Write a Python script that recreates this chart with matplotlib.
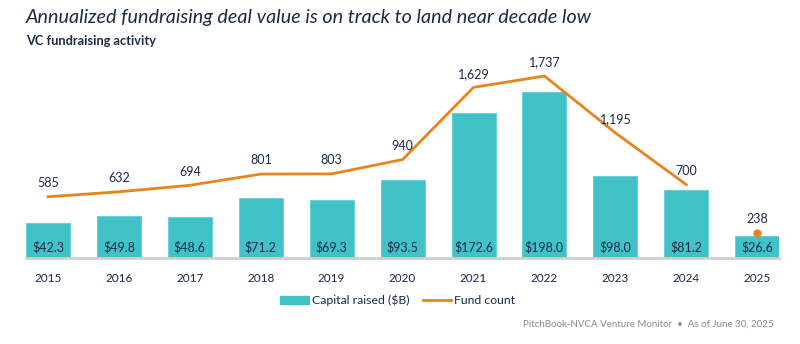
import matplotlib
matplotlib.use("Agg")
import matplotlib.pyplot as plt
from matplotlib.patches import Patch
from matplotlib.lines import Line2D

years = ["2015", "2016", "2017", "2018", "2019", "2020", "2021", "2022", "2023", "2024", "2025"]
capital = [42.3, 49.8, 48.6, 71.2, 69.3, 93.5, 172.6, 198.0, 98.0, 81.2, 26.6]
fund_count = [585, 632, 694, 801, 803, 940, 1629, 1737, 1195, 700, 238]
capital_labels = ["$42.3", "$49.8", "$48.6", "$71.2", "$69.3", "$93.5", "$172.6", "$198.0", "$98.0", "$81.2", "$26.6"]
count_labels = ["585", "632", "694", "801", "803", "940", "1,629", "1,737", "1,195", "700", "238"]

plt.rcParams['font.family'] = ['Lato', 'DejaVu Sans']
TEAL = "#40C2C8"
ORANGE = "#E8841E"
NAVY = "#1B2A47"

fig = plt.figure(figsize=(8, 3.44), dpi=100)
ax = fig.add_axes([0.0325, 0.25, 0.9415, 0.609])
x = list(range(len(years)))
ax.bar(x, capital, width=0.62, color=TEAL, edgecolor="#5fd0d5", linewidth=0.6, zorder=2)
ax.set_ylim(0, 250)
ax.set_xlim(-0.31, 10.31)
for s in ["top", "right", "left"]:
    ax.spines[s].set_visible(False)
ax.spines["bottom"].set_color("#cfcfcf")
ax.spines["bottom"].set_linewidth(2)
ax.set_yticks([])
ax.set_xticks(x)
ax.set_xticklabels(years, fontsize=8.5, color=NAVY)
ax.tick_params(axis="x", length=0, pad=11)
for i, lab in enumerate(capital_labels):
    ax.text(i, 12.5, lab, ha="center", va="center", fontsize=9, color=NAVY, zorder=4)

ax2 = ax.twinx()
ax2.set_ylim(0, 2000)
ax2.axis("off")
ax2.plot(x[:-1], fund_count[:-1], color=ORANGE, linewidth=2, zorder=3)
ax2.plot([x[-1]], [fund_count[-1]], "o", color=ORANGE, markersize=5, zorder=3)
for i, lab in enumerate(count_labels):
    ax2.text(i, fund_count[i] + 130, lab, ha="center", va="center",
             fontsize=9, color=NAVY)

fig.text(0.0325, 0.948, "Annualized fundraising deal value is on track to land near decade low",
         fontsize=14.2, style="italic", color=NAVY, va="center")
fig.text(0.0325, 0.881, "VC fundraising activity", fontsize=9.2, fontweight="bold", color=NAVY, va="center")

handles = [Patch(facecolor=TEAL, edgecolor=TEAL), Line2D([0], [0], color=ORANGE, linewidth=2)]
fig.legend(handles, ["Capital raised ($B)", "Fund count"], loc="center", bbox_to_anchor=(0.497, 0.127),
           ncol=2, frameon=False, fontsize=8.8, handlelength=2.3, handleheight=0.6, columnspacing=1.1,
           handletextpad=0.25, labelcolor=NAVY)
fig.text(0.967, 0.057, "PitchBook-NVCA Venture Monitor  \u2022  As of June 30, 2025", fontsize=7,
         color="#8a8a8a", ha="right", va="center")
fig.savefig("out.png", dpi=100)
